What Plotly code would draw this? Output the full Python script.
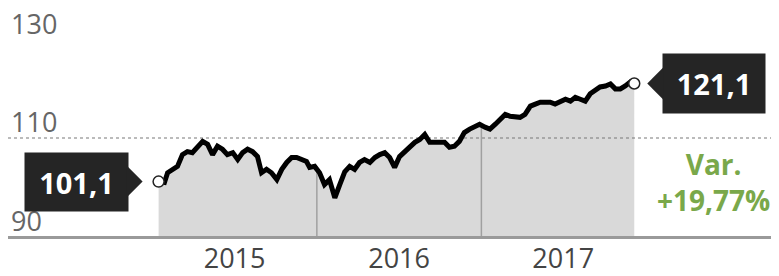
import plotly.graph_objects as go
import pandas as pd

dates = [
    "2015-01-14", "2015-01-27", "2015-02-03", "2015-02-14", "2015-02-25", "2015-03-08",
    "2015-03-19", "2015-03-30", "2015-04-11", "2015-04-22", "2015-05-03", "2015-05-14",
    "2015-05-25", "2015-06-05", "2015-06-16", "2015-06-28", "2015-07-09", "2015-07-20",
    "2015-07-31", "2015-08-11", "2015-08-22", "2015-08-31", "2015-09-11", "2015-09-22",
    "2015-10-04", "2015-10-15", "2015-10-26", "2015-11-06", "2015-11-17", "2015-11-28",
    "2015-12-09", "2015-12-16", "2015-12-27",
    "2016-01-07", "2016-01-18", "2016-01-29", "2016-02-10", "2016-02-21", "2016-03-03",
    "2016-03-14", "2016-03-25", "2016-04-05", "2016-04-16", "2016-04-28", "2016-05-09",
    "2016-05-20", "2016-05-31", "2016-06-11", "2016-06-22", "2016-07-03", "2016-07-14",
    "2016-07-26", "2016-08-06", "2016-08-17", "2016-08-28", "2016-09-08", "2016-09-19",
    "2016-09-30", "2016-10-11", "2016-10-22", "2016-11-02", "2016-11-13", "2016-11-24",
    "2016-12-06", "2016-12-17", "2016-12-28",
    "2017-01-09", "2017-01-20", "2017-02-01", "2017-02-12", "2017-02-23", "2017-03-06",
    "2017-03-17", "2017-03-28", "2017-04-08", "2017-04-20", "2017-05-01", "2017-05-12",
    "2017-05-23", "2017-06-03", "2017-06-14", "2017-06-25", "2017-07-07", "2017-07-18",
    "2017-07-29", "2017-08-09", "2017-08-20", "2017-08-31", "2017-09-11", "2017-09-22",
    "2017-10-04", "2017-10-15", "2017-10-26", "2017-11-06", "2017-11-17", "2017-11-28",
    "2017-12-07",
]
values = [
    101.1, 100.9, 102.9, 103.6, 104.2, 106.6,
    107.2, 107.0, 108.1, 109.3, 108.7, 106.6,
    108.3, 107.7, 106.6, 107.0, 105.6, 107.0,
    107.7, 107.2, 106.2, 102.9, 103.6, 102.9,
    101.5, 103.6, 105.0, 106.0, 106.0, 105.6,
    105.2, 104.0, 104.2,
    102.9, 100.5, 101.5, 97.8, 100.5, 103.1,
    104.2, 103.6, 105.0, 105.6, 105.0, 106.0,
    106.6, 107.0, 106.0, 104.0, 106.2, 107.2,
    108.3, 109.1, 109.7, 110.7, 109.1, 109.1,
    109.3, 109.1, 108.1, 108.3, 109.3, 111.1,
    111.8, 112.4, 112.8,
    112.2, 111.8, 112.8, 113.8, 114.8, 114.4,
    114.2, 114.2, 114.8, 116.5, 116.9, 117.3,
    117.3, 117.3, 116.9, 117.5, 117.9, 117.5,
    118.3, 117.9, 117.5, 119.0, 119.6, 120.4,
    120.6, 121.0, 120.0, 120.0, 120.6, 121.4,
    121.1,
]

year_labels = ["2015", "2016", "2017"]
year_label_dates = ["2015-07-02", "2016-07-02", "2017-07-02"]
year_starts = ["2016-01-01", "2017-01-01"]
y_ticks = [90, 110, 130]
start_label = "101,1"
end_label = "121,1"
var_text = "Var.<br>+19,77%"

FONT = "Open Sans"
s = pd.Series(values, index=pd.to_datetime(dates))

fig = go.Figure()

# area under the curve
fig.add_trace(go.Scatter(
    x=dates, y=values, mode="lines", line=dict(width=0, color="rgba(0,0,0,0)"),
    fill="tozeroy", fillcolor="rgba(120,120,120,0.28)", hoverinfo="skip",
))

# year separators inside the area
vx, vy = [], []
for d in year_starts:
    top = s.asof(pd.Timestamp(d))
    vx += [d, d, None]
    vy += [90, top, None]
fig.add_trace(go.Scatter(x=vx, y=vy, mode="lines",
                         line=dict(color="#a0a0a0", width=1.5), hoverinfo="skip"))

# main line
fig.add_trace(go.Scatter(x=dates, y=values, mode="lines",
                         line=dict(color="#000000", width=5)))

# end points
fig.add_trace(go.Scatter(
    x=[dates[0], dates[-1]], y=[values[0], values[-1]], mode="markers",
    marker=dict(size=11, color="white", line=dict(color="#222", width=1.5)),
))

box = "#252525"
fig.add_annotation(x=dates[0], y=values[0], text="<b>" + start_label + "</b>",
                   showarrow=True, ax=-82, ay=0, arrowhead=1, arrowsize=2.7,
                   arrowwidth=2, arrowcolor=box, standoff=16,
                   bgcolor=box, font=dict(family=FONT, size=29, color="white"),
                   width=97, height=52, borderpad=3)
fig.add_annotation(x=dates[-1], y=values[-1], text="<b>" + end_label + "</b>",
                   showarrow=True, ax=80, ay=0, arrowhead=1, arrowsize=2.7,
                   arrowwidth=2, arrowcolor=box, standoff=13,
                   bgcolor=box, font=dict(family=FONT, size=29, color="white"),
                   width=96, height=53, borderpad=3)
fig.add_annotation(xref="paper", yref="y", x=0.915, y=101.1, xanchor="center",
                   yanchor="middle",
                   text="<b>" + var_text + "</b>", showarrow=False,
                   font=dict(family=FONT, size=28, color="#7aa84a"))

fig.update_layout(
    width=771, height=268,
    margin=dict(l=0, r=0, t=0, b=40),
    paper_bgcolor="white", plot_bgcolor="white",
    showlegend=False,
    font=dict(family=FONT),
    xaxis=dict(
        type="date", range=["2014-02-13", "2018-10-25"], automargin=False,
        tickmode="array", tickvals=year_label_dates, ticktext=year_labels,
        showgrid=False, zeroline=False, ticks="",
        showline=True, linecolor="#9a9a9a", linewidth=3,
        ticklabelstandoff=-3,
        tickfont=dict(family=FONT, size=27, color="#444"),
    ),
    yaxis=dict(
        range=[90, 136.5], tickmode="array", tickvals=y_ticks, automargin=False,
        ticktext=[str(v) for v in y_ticks],
        ticklabelposition="inside top", ticklabeloverflow="allow", ticks="",
        ticklabelshift=4,
        showgrid=False, zeroline=False, showline=False,
        tickfont=dict(family=FONT, size=27, color="#666"),
        minor=dict(tickmode="array", tickvals=[110], showgrid=True,
                   gridcolor="#bbbbbb", griddash="dot", gridwidth=1.5, ticks=""),
    ),
)

fig.write_html("out.html")
